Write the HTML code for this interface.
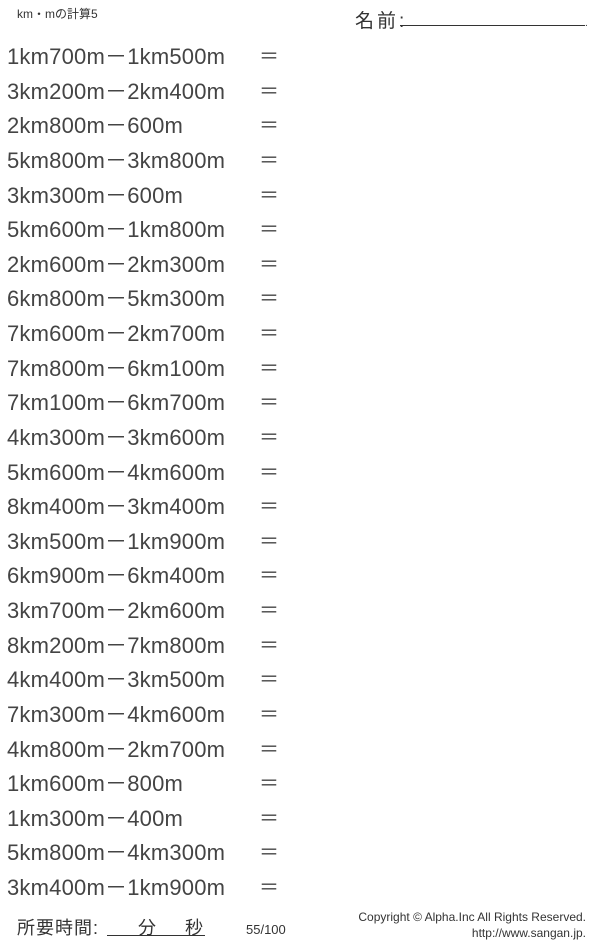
<!DOCTYPE html>
<html><head><meta charset="utf-8"><style>
body{margin:0;width:600px;height:943px;background:#fff;position:relative;overflow:hidden;font-family:"Liberation Sans","Noto Sans CJK JP",sans-serif;color:#333}
.r{position:absolute;left:7px;font-size:22px;letter-spacing:0.2px;line-height:22px;height:22px;white-space:nowrap;color:#444}
.e{position:absolute;left:259px;font-size:20px;line-height:22px;color:#444}
.a{position:absolute;white-space:nowrap}
</style></head><body>
<div class="a" style="left:17px;top:5px;font-size:12px">km・mの計算5</div>
<div class="a" style="left:355px;top:6px;font-size:19px;letter-spacing:3px">名前:</div>
<div class="a" style="left:400px;top:25px;width:185px;border-top:1px solid #333"></div>
<div class="a" style="left:585px;top:18px;font-size:10px">.</div>
<div id="rows"></div>
<div class="a" style="left:17px;top:914px;font-size:18px;letter-spacing:1px">所要時間:</div>
<div class="a" style="left:107px;top:935px;width:98px;border-top:1px solid #333"></div>
<div class="a" style="left:138px;top:914px;font-size:18px">分</div>
<div class="a" style="left:185px;top:914px;font-size:18px">秒</div>
<div class="a" style="left:246px;top:922px;font-size:13px">55/100</div>
<div class="a" style="right:14px;top:909px;font-size:12px;text-align:right;line-height:16px">Copyright © Alpha.Inc All Rights Reserved.<br>http://www.sangan.jp.</div>
<script>
var d=["1km700m－1km500m","3km200m－2km400m","2km800m－600m","5km800m－3km800m","3km300m－600m","5km600m－1km800m","2km600m－2km300m","6km800m－5km300m","7km600m－2km700m","7km800m－6km100m","7km100m－6km700m","4km300m－3km600m","5km600m－4km600m","8km400m－3km400m","3km500m－1km900m","6km900m－6km400m","3km700m－2km600m","8km200m－7km800m","4km400m－3km500m","7km300m－4km600m","4km800m－2km700m","1km600m－800m","1km300m－400m","5km800m－4km300m","3km400m－1km900m"];
var h="";for(var i=0;i<d.length;i++){var t=46+i*34.625;h+='<div class="r" style="top:'+t+'px">'+d[i]+'</div><div class="e" style="top:'+t+'px">＝</div>';}
document.getElementById("rows").innerHTML=h;
</script>
</body></html>
